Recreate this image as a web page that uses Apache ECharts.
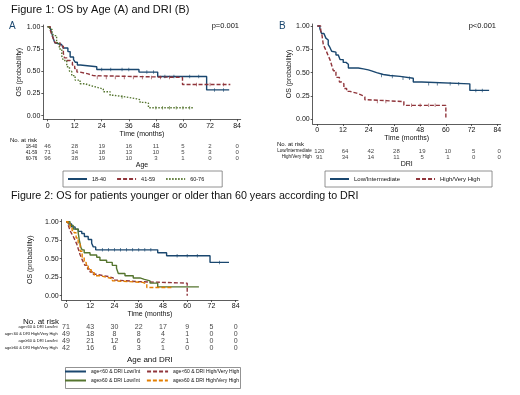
<!DOCTYPE html>
<html>
<head>
<meta charset="utf-8">
<script src="https://cdn.jsdelivr.net/npm/echarts@6/dist/echarts.min.js"></script>
<style>
  html, body { margin: 0; padding: 0; background: #fff; }
  #chart { width: 520px; height: 395px; }
</style>
</head>
<body>
<div id="chart"></div>
<script>
// tick labels
const timeTicks = [0, 12, 24, 36, 48, 60, 72, 84];
const probTicks = [0, 0.25, 0.5, 0.75, 1];

// Figure 1A - OS by age, [months, survival]
const age1840 = [[0,1],[1,0.98],[1.8,0.93],[2.5,0.87],[3.2,0.82],[4,0.8],[6.2,0.78],[7,0.76],[9,0.72],[10,0.66],[11.5,0.63],[12.3,0.6],[13.2,0.57],[14.5,0.55],[21.8,0.52],[40.5,0.49],[48.8,0.44],[70.5,0.29],[80.5,0.29]];
const age4159 = [[0,1],[1.2,0.96],[2,0.9],[2.8,0.85],[3.3,0.82],[5.5,0.78],[7,0.7],[7.5,0.65],[8.5,0.62],[10,0.6],[11,0.57],[12,0.53],[13,0.49],[14.4,0.47],[18,0.45],[20.3,0.43],[59.8,0.35],[81,0.35]];
const age6076 = [[0,1],[1,0.97],[2,0.93],[2.6,0.9],[4,0.82],[5.2,0.75],[6.3,0.67],[7,0.62],[8.5,0.55],[9.7,0.5],[10.7,0.45],[12.2,0.4],[14.4,0.36],[16.6,0.34],[18.8,0.32],[21.8,0.3],[24.7,0.27],[27.7,0.23],[29.2,0.21],[35,0.19],[39.5,0.18],[41,0.15],[43.2,0.14],[44.7,0.09],[64.6,0.09]];
// censored observations
const cens1840 = [[24,0.52],[28,0.52],[33,0.52],[36,0.52],[44,0.49],[47,0.49],[52,0.44],[56,0.44],[63,0.44],[67,0.44],[74,0.29],[78,0.29]];
const cens4159 = [[22,0.43],[26,0.43],[30,0.43],[34,0.43],[38,0.43],[42,0.43],[46,0.43],[50,0.43],[54,0.43],[66,0.35],[72,0.35],[78,0.35]];
const cens6076 = [[33,0.21],[48,0.09],[51,0.09],[54,0.09],[57,0.09],[60,0.09],[63,0.09]];

// Figure 1B - OS by DRI
const driLow = [[0,1],[1.2,0.97],[2,0.92],[3.1,0.9],[4,0.87],[4.7,0.85],[5.1,0.8],[5.9,0.77],[6.7,0.73],[7.5,0.72],[8.7,0.69],[9.8,0.67],[10.6,0.64],[12.1,0.61],[13.4,0.59],[14.5,0.55],[19.1,0.54],[21.5,0.53],[23.8,0.52],[25.3,0.5],[27.7,0.48],[30.8,0.47],[33.9,0.46],[38.6,0.44],[44.8,0.4],[48.7,0.38],[71.2,0.31],[80.2,0.31]];
const driHigh = [[0,1],[1.6,0.95],[2.2,0.9],[2.8,0.8],[3.6,0.76],[4.4,0.72],[5.1,0.68],[5.9,0.64],[6.7,0.58],[7.5,0.52],[8.7,0.45],[10.3,0.4],[11.4,0.38],[12.4,0.33],[13.7,0.3],[15.2,0.28],[18.4,0.26],[20.7,0.24],[22.2,0.21],[23.3,0.19],[40.4,0.15],[60,0]];
const censLow = [[30,0.47],[35,0.46],[40,0.44],[43,0.44],[52,0.38],[56,0.38],[62,0.38],[66,0.38],[74,0.31],[77,0.31]];
const censHigh = [[28,0.19],[32,0.19],[44,0.15],[48,0.15],[52,0.15],[55,0.15]];

// Figure 2 - age and DRI
const youngLow = [[0,1],[1.2,0.97],[2.8,0.93],[4.5,0.9],[6.1,0.87],[7.8,0.84],[9.1,0.8],[11,0.76],[12.7,0.71],[13.5,0.66],[14.7,0.62],[45.4,0.58],[49.8,0.54],[71.3,0.45],[80.7,0.45]];
const youngHigh = [[0,1],[1.2,0.95],[2,0.88],[2.8,0.84],[3.6,0.8],[4.5,0.75],[5.3,0.7],[6.1,0.63],[6.9,0.56],[7.8,0.5],[8.6,0.45],[9.4,0.41],[10.7,0.36],[11.9,0.32],[13.5,0.29],[15.2,0.27],[18.5,0.26],[21,0.24],[23.4,0.21],[25,0.19],[36,0.17],[60,0]];
const oldLow = [[0,1],[2,0.95],[3.6,0.9],[6,0.86],[6.6,0.75],[7.4,0.65],[8,0.62],[9,0.58],[11.9,0.55],[15.2,0.52],[16.8,0.48],[20.1,0.45],[22.9,0.41],[25,0.37],[25.9,0.3],[29.2,0.27],[33.3,0.24],[36.6,0.22],[38.8,0.2],[41.6,0.17],[45.4,0.12],[65.8,0.12]];
const oldHigh = [[0,1],[1,0.97],[2,0.92],[3,0.88],[4,0.85],[5,0.78],[6,0.7],[7,0.6],[8,0.52],[9,0.45],[10,0.4],[11,0.35],[12.5,0.31],[14,0.27],[17,0.25],[20,0.23],[23,0.2],[25,0.18],[38,0.16],[40,0.11],[52.9,0.11]];
const censYoungLow = [[18,0.62],[21,0.62],[24,0.62],[27,0.62],[30,0.62],[33,0.62],[36,0.62],[39,0.62],[42,0.62],[55,0.54],[60,0.54],[65,0.54],[76,0.45]];

// numbers at risk
const riskRowsA = ['18-40', '41-59', '60-76'];
const riskA = [
  [46, 28, 19, 16, 11, 5, 2, 0],
  [71, 34, 18, 13, 10, 5, 3, 0],
  [96, 38, 19, 10, 3, 1, 0, 0]
];
const riskRowsB = ['Low/Intermediate', 'High/Very High'];
const riskB = [
  [120, 64, 42, 28, 19, 10, 5, 0],
  [91, 34, 14, 11, 5, 1, 0, 0]
];
const riskRowsC = ['age<60 & DRI Low/Int', 'age<60 & DRI High/Very High', 'age\u226560 & DRI Low/Int', 'age\u226560 & DRI High/Very High'];
const riskC = [
  [71, 43, 30, 22, 17, 9, 5, 0],
  [49, 18, 8, 8, 4, 1, 0, 0],
  [49, 21, 12, 6, 2, 1, 0, 0],
  [42, 16, 6, 3, 1, 0, 0, 0]
];

const FONT = '"Liberation Sans", Arial, sans-serif';
const NAVY = '#1a476f', MAROON = '#90353b', GREEN = '#55752f', ORANGE = '#e37e00';

const chart = echarts.init(document.getElementById('chart'), null, { renderer: 'canvas' });

function timeAxis(gridIndex, min, max, gap) {
  return {
    gridIndex, type: 'value', min, max,
    axisLine: { show: true, onZero: false, lineStyle: { color: '#333', width: 0.8 } },
    axisTick: { show: true, length: 2, customValues: timeTicks, lineStyle: { color: '#333', width: 0.8 } },
    axisLabel: { customValues: timeTicks, fontSize: 7, margin: 3, color: '#111', fontFamily: FONT },
    splitLine: { show: false },
    name: 'Time (months)', nameLocation: 'middle', nameGap: gap,
    nameTextStyle: { fontSize: 7, color: '#111', fontFamily: FONT }
  };
}
function probAxis(gridIndex, min, max, gap) {
  return {
    gridIndex, type: 'value', min, max,
    axisLine: { show: true, onZero: false, lineStyle: { color: '#333', width: 0.8 } },
    axisTick: { show: true, length: 2, customValues: probTicks, lineStyle: { color: '#333', width: 0.8 } },
    axisLabel: { customValues: probTicks, fontSize: 7, margin: 3, color: '#111', fontFamily: FONT,
      formatter: (v) => v.toFixed(2) },
    splitLine: { show: false },
    name: 'OS (probability)', nameLocation: 'middle', nameGap: gap, nameRotate: 90,
    nameTextStyle: { fontSize: 7, color: '#111', fontFamily: FONT }
  };
}
function riskX(gridIndex, min, max, name, gap, fs) {
  return {
    gridIndex, type: 'value', min, max,
    axisLine: { show: false }, axisTick: { show: false }, axisLabel: { show: false }, splitLine: { show: false },
    name, nameLocation: 'middle', nameGap: gap,
    nameTextStyle: { fontSize: fs, color: '#111', fontFamily: FONT }
  };
}
function riskY(gridIndex, rows, fs, margin) {
  return {
    gridIndex, type: 'category', data: rows, inverse: true,
    axisLine: { show: false }, axisTick: { show: false }, splitLine: { show: false },
    axisLabel: { interval: 0, fontSize: fs, margin, color: '#111', fontFamily: FONT }
  };
}
function km(name, data, axis, color, type) {
  return {
    type: 'line', name, data, step: 'end', symbol: 'none',
    xAxisIndex: axis, yAxisIndex: axis,
    lineStyle: { color, width: 1.4, type: type || 'solid' },
    itemStyle: { color }, z: 3
  };
}
function censor(data, axis, color) {
  return {
    type: 'scatter', data, xAxisIndex: axis, yAxisIndex: axis,
    symbol: 'rect', symbolSize: [0.8, 3.5], itemStyle: { color }, z: 4, silent: true
  };
}
function riskSeries(rows, values, axis, fs, shift) {
  const pts = [];
  values.forEach((row, i) => row.forEach((v, j) => pts.push([timeTicks[j], rows[i], v])));
  return {
    type: 'scatter', data: pts, symbolSize: 0, xAxisIndex: axis, yAxisIndex: axis,
    label: { show: true, position: 'inside', formatter: (p) => p.value[2], offset: [shift || 0, 0],
      fontSize: fs, color: '#111', fontFamily: FONT },
    silent: true
  };
}
function legend(left, top, names, opts) {
  return Object.assign({
    left, top, data: names, orient: 'horizontal',
    padding: [5, 18, 5, 4], itemGap: 10, itemWidth: 19, itemHeight: 2,
    borderColor: '#777', borderWidth: 0.8,
    itemStyle: { opacity: 0 },
    textStyle: { fontSize: 5.5, color: '#111', fontFamily: FONT },
    selectedMode: false
  }, opts || {});
}
const smallLegend = { borderWidth: 0, padding: 0, itemGap: 6, itemWidth: 21,
  textStyle: { fontSize: 5, color: '#111', fontFamily: FONT } };

const option = {
  animation: false,
  backgroundColor: '#fff',
  textStyle: { fontFamily: FONT },
  grid: [
    { left: 43.3, top: 25, width: 197.4, height: 94.3 },   // A
    { left: 43.3, top: 143.5, width: 197.4, height: 18 },  // A risk
    { left: 312.7, top: 24, width: 188, height: 100 },     // B
    { left: 312.7, top: 148, width: 188, height: 12 },     // B risk
    { left: 61.7, top: 219.5, width: 176.3, height: 80.5 },// C
    { left: 61.7, top: 323.8, width: 176.3, height: 28 }   // C risk
  ],
  xAxis: [
    timeAxis(0, -1.9, 85.6, 10),
    riskX(1, -1.9, 85.6, 'Age', 0.5, 7),
    timeAxis(2, -2.15, 85.6, 9),
    riskX(3, -2.15, 85.6, 'DRI', 0.5, 7),
    timeAxis(4, -2.13, 85.15, 9.5),
    riskX(5, -2.13, 85.15, 'Age and DRI', 3.5, 8)
  ],
  yAxis: [
    probAxis(0, -0.04, 1.019, 18),
    riskY(1, riskRowsA, 4.5, 6),
    probAxis(2, -0.05, 1.0214, 19),
    riskY(3, riskRowsB, 4.5, 1),
    probAxis(4, -0.058, 1.03, 28),
    riskY(5, riskRowsC, 4, 4)
  ],
  legend: [
    legend(63, 171, ['18-40', '41-59', '60-76']),
    legend(325, 171, riskRowsB, { itemGap: 15, padding: [5, 12, 5, 4], textStyle: { fontSize: 6, color: '#111', fontFamily: FONT } }),
    legend(64, 369, [riskRowsC[0], riskRowsC[1]], smallLegend),
    legend(64, 378, [riskRowsC[2], riskRowsC[3]], smallLegend)
  ],
  series: [
    km('18-40', age1840, 0, NAVY),
    km('41-59', age4159, 0, MAROON, [4, 2]),
    km('60-76', age6076, 0, GREEN, [1.5, 1.5]),
    censor(cens1840, 0, NAVY),
    censor(cens4159, 0, MAROON),
    censor(cens6076, 0, GREEN),
    riskSeries(riskRowsA, riskA, 1, 6),
    km('Low/Intermediate', driLow, 2, NAVY),
    km('High/Very High', driHigh, 2, MAROON, [4, 2]),
    censor(censLow, 2, NAVY),
    censor(censHigh, 2, MAROON),
    riskSeries(riskRowsB, riskB, 3, 6, 2),
    km(riskRowsC[0], youngLow, 4, NAVY),
    km(riskRowsC[1], youngHigh, 4, MAROON, [4, 2]),
    km(riskRowsC[2], oldLow, 4, GREEN),
    km(riskRowsC[3], oldHigh, 4, ORANGE, [4, 2]),
    censor(censYoungLow, 4, NAVY),
    riskSeries(riskRowsC, riskC, 5, 7)
  ],
  graphic: [
    { type: 'text', left: 11, top: 4, style: { text: 'Figure 1: OS by Age (A) and DRI (B)', fontSize: 11, fill: '#111', fontFamily: FONT } },
    { type: 'text', left: 11, top: 191, style: { text: 'Figure 2: OS for patients younger or older than 60 years according to DRI', fontSize: 10.7, fill: '#111', fontFamily: FONT } },
    { type: 'text', left: 9, top: 21, style: { text: 'A', fontSize: 10, fill: NAVY, fontFamily: FONT } },
    { type: 'text', left: 279, top: 21, style: { text: 'B', fontSize: 10, fill: NAVY, fontFamily: FONT } },
    { type: 'text', right: 281, top: 22, style: { text: 'p=0.001', fontSize: 7.5, fill: '#111', fontFamily: FONT } },
    { type: 'text', right: 24, top: 22, style: { text: 'p<0.001', fontSize: 7.5, fill: '#111', fontFamily: FONT } },
    { type: 'text', left: 10, top: 137, style: { text: 'No. at risk', fontSize: 6, fill: '#111', fontFamily: FONT } },
    { type: 'text', left: 277, top: 141, style: { text: 'No. at risk', fontSize: 6, fill: '#111', fontFamily: FONT } },
    { type: 'text', left: 23, top: 317.5, style: { text: 'No. at risk', fontSize: 8, fill: '#111', fontFamily: FONT } },
    { type: 'rect', left: 63, top: 365, shape: { width: 175, height: 21 }, style: { fill: 'none', stroke: '#777', lineWidth: 0.8 }, silent: true }
  ]
};

chart.setOption(option);
</script>
</body>
</html>
